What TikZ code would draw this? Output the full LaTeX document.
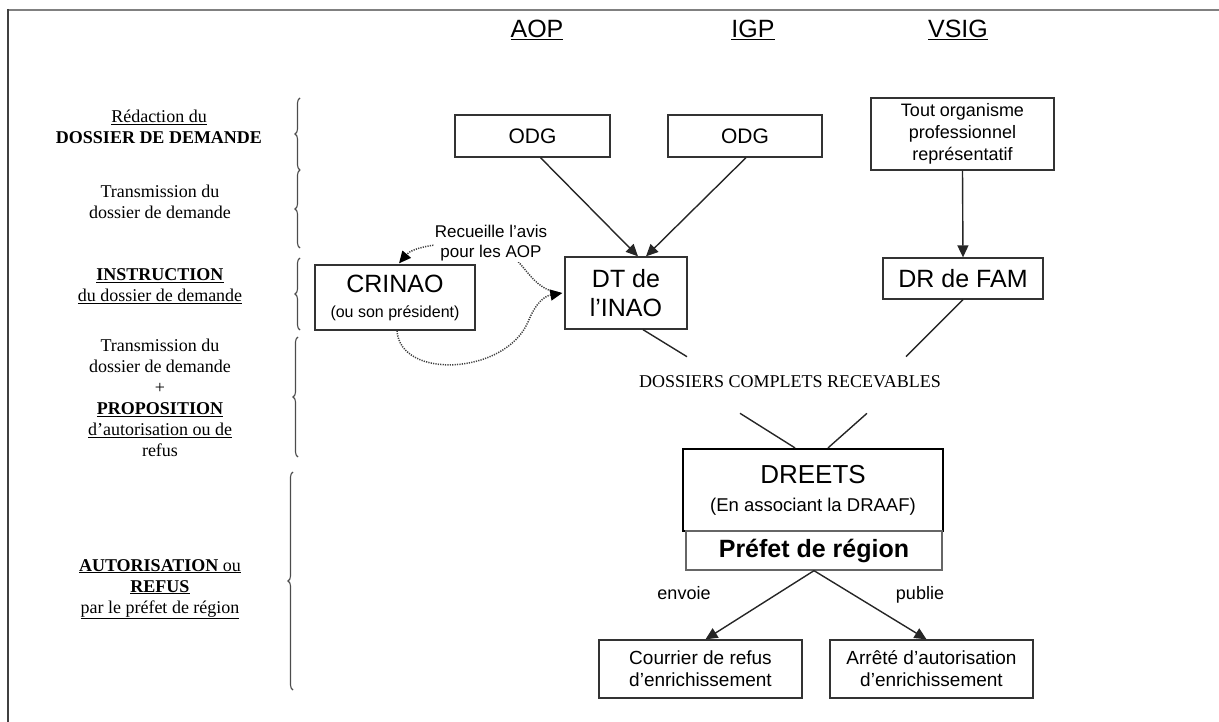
\documentclass[tikz,border=0pt]{standalone}
\usepackage{fontspec}
\setmainfont{Liberation Serif}
\setsansfont{Liberation Sans}
\usetikzlibrary{arrows.meta,decorations.pathreplacing,calc}
\begin{document}
\begin{tikzpicture}[x=1pt,y=-1pt,
  box/.style={draw=black!80,line width=1.3pt,align=center,inner sep=0pt},
  arr/.style={line width=1.4pt,draw=black!85,-{Triangle[length=12pt,width=11pt]}},
  ln/.style={line width=1.4pt,draw=black!85},
  dots/.style={line width=1.5pt,draw=black!75,dash pattern=on 1.2pt off 1.2pt,-{Triangle[length=12pt,width=11pt,color=black]}},
  bracestyle/.style={decorate,decoration={brace,amplitude=5pt},line width=1.1pt,draw=black!70},
  lab/.style={font=\fontsize{18}{21}\selectfont,align=center,inner sep=0pt},
  hdr/.style={font=\sffamily\fontsize{25}{28}\selectfont,inner sep=0pt},
  sf/.style={font=\sffamily\fontsize{#1}{#1}\selectfont},
]
\useasboundingbox (0,0) rectangle (1219,722);
% frame
\draw[line width=2pt,draw=black!50] (7,10) -- (1219,10);
\draw[line width=2pt,draw=black!75] (8,9) -- (8,722);

% headers
\node[hdr] (aop) at (537,30) {\underline{AOP}};
\node[hdr] (igp) at (753,30) {\underline{IGP}};
\node[hdr] (vsig) at (958,30) {\underline{VSIG}};

% left labels
\node[lab] (l1) at (159,127) {\underline{Rédaction du}\\\textbf{DOSSIER DE DEMANDE}};
\node[lab] (l2) at (160,202) {Transmission du\\dossier de demande};
\node[lab] (l3) at (160,286) {\underline{\textbf{INSTRUCTION}}\\\underline{du dossier de demande}};
\node[lab] (l4) at (160,398) {Transmission du\\dossier de demande\\+\\\underline{\textbf{PROPOSITION}}\\\underline{d’autorisation ou de}\\refus};
\node[lab] (l5) at (160,589) {\underline{\textbf{AUTORISATION} ou}\\\underline{\textbf{REFUS}}\\\underline{par le préfet de région}};

% braces
\draw[bracestyle] (300,170) -- (300,98);
\draw[bracestyle] (300,248) -- (300,170);
\draw[bracestyle] (300,330) -- (300,258);
\draw[bracestyle] (298,457) -- (298,337);
\draw[bracestyle] (293,690) -- (293,472);

% boxes
\node[box,sf=21,minimum width=155pt,minimum height=42pt] (odg1) at (532.5,136) {ODG};
\node[box,sf=21,minimum width=154pt,minimum height=42pt] (odg2) at (745,136) {ODG};
\node[box,font=\sffamily\fontsize{18}{22}\selectfont,minimum width=183pt,minimum height=72pt] (tout) at (962.5,134) {Tout organisme\\professionnel\\représentatif};
\node[box,sf=25,minimum width=160pt,minimum height=41pt] (drfam) at (963,278.5) {DR de FAM};
\node[box,font=\sffamily\fontsize{16}{25}\selectfont,minimum width=160pt,minimum height=65pt] (crinao) at (395,297.5) {{\fontsize{25}{25}\selectfont CRINAO}\\(ou son président)};
\node[box,font=\sffamily\fontsize{25}{29}\selectfont,minimum width=122pt,minimum height=72pt] (dt) at (626,293) {DT de\\l’INAO};
\node[lab,font=\fontsize{18}{21}\selectfont] (dcr) at (790,382) {DOSSIERS COMPLETS RECEVABLES};
\node[box,draw=black,line width=2.2pt,font=\sffamily\fontsize{18.5}{28}\selectfont,minimum width=260pt,minimum height=82pt] (dreets) at (813,490) {{\fontsize{26}{28}\selectfont DREETS}\\(En associant la DRAAF)};
\node[box,draw=black!60,line width=1.3pt,font=\sffamily\bfseries\fontsize{25}{28}\selectfont,minimum width=256pt,minimum height=39pt] (prefet) at (814,550.5) {Préfet de région};
\node[box,font=\sffamily\fontsize{19}{22}\selectfont,minimum width=203pt,minimum height=58pt] (cour) at (700.5,669) {Courrier de refus\\d’enrichissement};
\node[box,font=\sffamily\fontsize{19}{22}\selectfont,minimum width=203pt,minimum height=58pt] (arr) at (931.5,669) {Arrêté d’autorisation\\d’enrichissement};

% connectors
\draw[arr] ($(odg1.south)+(8,0)$) -- ($(dt.north)+(12,0)$);
\draw[arr] ($(odg2.south)+(1,0)$) -- ($(dt.north)+(20,0)$);
\draw[arr] (tout.south) -- (drfam.north);
\coordinate (dcrnw) at ($(dcr.north)+(-103,-19)$);
\coordinate (dcrne) at ($(dcr.north)+(116,-19)$);
\coordinate (dcrsw) at ($(dcr.south)+(-50,25)$);
\coordinate (dcrse) at ($(dcr.south)+(77,25)$);
\draw[ln] ($(dt.south)+(17,0)$) -- (dcrnw);
\draw[ln] (drfam.south) -- (dcrne);
\draw[ln] (dcrsw) -- ($(dreets.north)+(-18,0)$);
\draw[ln] (dcrse) -- ($(dreets.north)+(15,0)$);
\draw[arr] (prefet.south) -- ($(cour.north)+(5,0)$);
\draw[arr] (prefet.south) -- ($(arr.north)+(-5,0)$);
\node[sf=18,inner sep=0pt,anchor=base] (envoie) at (684,599) {envoie};
\node[sf=18,inner sep=0pt,anchor=base] (publie) at (920,599) {publie};

% dotted curves
\draw[dots] ($(dt.west)+(-4,0)$) .. controls (522,288) and (528,248) .. (480,244) .. controls (440,241) and (412,248) .. ($(crinao.north)+(4,-1)$);
\draw[dots] ($(crinao.south)+(2,0)$) .. controls (400,380) and (505,375) .. (528,322) .. controls (536,302) and (545,296) .. ($(dt.west)+(-2,0)$);
\node[font=\sffamily\fontsize{17}{20}\selectfont,align=center,fill=white,inner sep=1pt] (recueille) at (491,243) {Recueille l’avis\\pour les AOP};
\end{tikzpicture}
\end{document}
